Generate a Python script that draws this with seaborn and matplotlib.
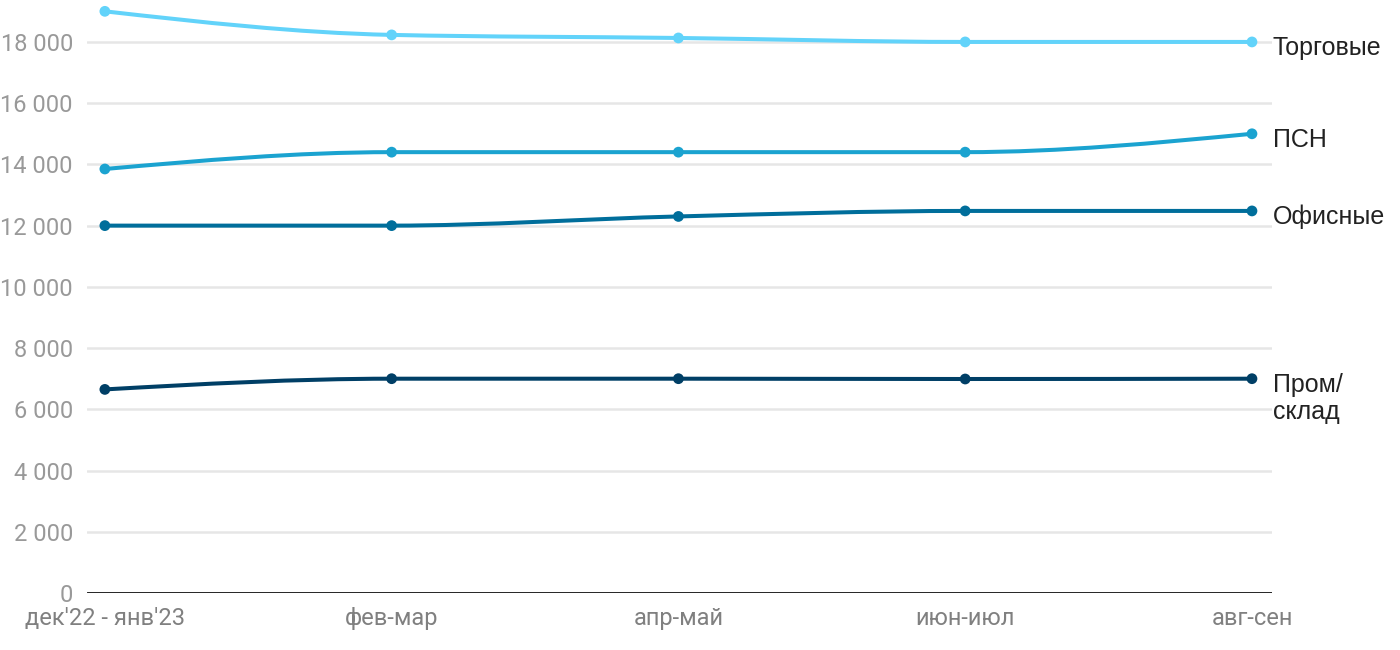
import numpy as np
import pandas as pd
import matplotlib
matplotlib.use("Agg")
import matplotlib.pyplot as plt
from matplotlib.path import Path
from matplotlib.patches import PathPatch
import seaborn as sns

periods = ["дек'22 - янв'23", "фев-мар", "апр-май", "июн-июл", "авг-сен"]
trade = [19000, 18230, 18130, 18000, 18000]
psn = [13850, 14400, 14400, 14400, 15000]
office = [12000, 12000, 12300, 12480, 12480]
industrial = [6650, 7000, 7000, 6990, 7000]

series_names = ["Торговые", "ПСН", "Офисные", "Пром/\nсклад"]
series_vals = [trade, psn, office, industrial]
series_colors = ["#62d3fa", "#1ba3d0", "#006e9b", "#003f66"]

yticks = [0, 2000, 4000, 6000, 8000, 10000, 12000, 14000, 16000, 18000]

rows = []
for name, vals in zip(series_names, series_vals):
    for i, v in enumerate(vals):
        rows.append({"x": i, "period": periods[i], "series": name, "value": v})
df = pd.DataFrame(rows)


def monotone_path(x, y):
    # cubic bezier segments with monotone tangents (like d3 curveMonotoneX)
    x = np.asarray(x, float)
    y = np.asarray(y, float)
    h = np.diff(x)
    s = np.diff(y) / h
    n = len(x)
    t = np.zeros(n)
    for i in range(1, n - 1):
        if s[i - 1] * s[i] <= 0:
            t[i] = 0
        else:
            p = (s[i - 1] * h[i] + s[i] * h[i - 1]) / (h[i - 1] + h[i])
            t[i] = (np.sign(s[i - 1]) + np.sign(s[i])) * min(abs(s[i - 1]), abs(s[i]), 0.5 * abs(p))
    t[0] = (3 * s[0] - t[1]) / 2
    t[-1] = (3 * s[-1] - t[-2]) / 2
    verts = [(x[0], y[0])]
    codes = [Path.MOVETO]
    for i in range(n - 1):
        d = h[i] / 3
        verts += [(x[i] + d, y[i] + t[i] * d), (x[i + 1] - d, y[i + 1] - t[i + 1] * d), (x[i + 1], y[i + 1])]
        codes += [Path.CURVE4] * 3
    return Path(verts, codes)


sns.set_style("white")
plt.rcParams["font.family"] = ["Roboto", "DejaVu Sans"]

fig = plt.figure(figsize=(14, 6.5), dpi=100)
ax = fig.add_axes([0.062, 0.0877, 0.8466, 0.9123])

for name, color in zip(series_names, series_colors):
    sub = df[df.series == name]
    ax.add_patch(PathPatch(monotone_path(sub.x, sub.value), fill=False, edgecolor=color,
                           lw=2.9, capstyle="round", zorder=3, clip_on=False))

sns.scatterplot(data=df, x="x", y="value", hue="series", palette=series_colors,
                s=60, edgecolor="none", legend=False, ax=ax, zorder=4, clip_on=False)

# series names to the right of the last point
for name, vals in zip(series_names, series_vals):
    ax.annotate(name, xy=(len(periods) - 1, vals[-1]), xytext=(21, 6),
                textcoords="offset pixels", ha="left", va="top",
                fontsize=18, color="#222222", family=["Liberation Sans", "DejaVu Sans"],
                linespacing=1.15)

ax.set_xlim(-0.063, len(periods) - 1 + 0.07)
ax.set_ylim(0, 19370)
ax.set_yticks(yticks)
ax.set_yticklabels([f"{v:,}".replace(",", " ") for v in yticks])
ax.set_xticks(range(len(periods)))
ax.set_xticklabels(periods)
ax.set_xlabel("")
ax.set_ylabel("")

for v in yticks[1:]:
    ax.axhline(v, color="#e6e6e6", lw=1.8, zorder=1)
ax.axhline(0, color="#111111", lw=2, zorder=2)

for side in ["top", "right", "left", "bottom"]:
    ax.spines[side].set_visible(False)
ax.tick_params(axis="both", length=0, labelsize=17, labelcolor="#999999")
ax.tick_params(axis="y", pad=10)
ax.tick_params(axis="x", pad=10, labelcolor="#808080")

fig.savefig("out.png", dpi=100)
